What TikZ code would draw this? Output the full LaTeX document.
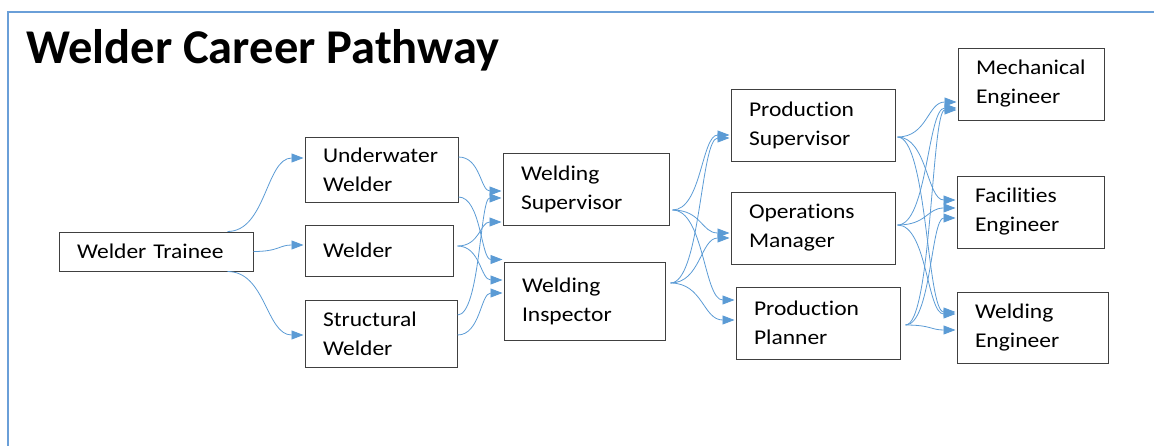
\documentclass[tikz,border=0pt]{standalone}
\usepackage{fontspec}
\setmainfont{Carlito}
\newfontfamily\boxfont[FakeStretch=1.12,Ligatures=CommonOff]{Carlito}
\newfontfamily\titlefont{Carlito}
\usepackage{xcolor}
\usetikzlibrary{arrows.meta,calc}
\definecolor{pathblue}{HTML}{5B9BD5}
\definecolor{frameblue}{HTML}{6A9FD8}

\begin{document}
\begin{tikzpicture}[x=1pt,y=-1pt,->,>={Triangle[length=12pt,width=9pt]},
    shorten >=1pt,
    main node/.style={rectangle,draw=black!75,line width=1pt,align=left,
      inner xsep=18pt,inner ysep=0pt,font=\boxfont\fontsize{21}{29}\selectfont},
    flow/.style={draw=pathblue,line width=0.8pt,
      to path={let \p1=(\tikztostart), \p2=(\tikztotarget),
        \p3=($(\p1)!0.5!(\p2)$) in
        .. controls (\x3,\y1) and (\x3,\y2) .. (\tikztotarget) \tikztonodes}}]
    \useasboundingbox (0,0) rectangle (1154,447);
    \draw[-,frameblue,line width=2pt] (1154,12) -- (8,12) -- (8,447);
    \node[anchor=base west,inner sep=0pt,font=\titlefont\fontsize{48.5}{54}\selectfont\bfseries]
      (title) at (26,63) {Welder Career Pathway};

    % first step
    \node[main node,minimum width=194pt,minimum height=39pt,text width=158pt]
      (trainee) at (156,251.5) {Welder Trainee};
    \node[main node,minimum width=153pt,minimum height=65pt,text width=117pt]
      (under_w) at (381.5,169.5) {Underwater\\Welder};
    \node[main node,minimum width=148pt,minimum height=51pt,text width=112pt]
      (welder) at (379,250.5) {Welder};
    \node[main node,minimum width=152pt,minimum height=67pt,text width=116pt]
      (struct_w) at (381,333.5) {Structural\\Welder};
    % second step
    \node[main node,minimum width=166pt,minimum height=72pt,text width=130pt]
      (weld_sup) at (586,189) {Welding\\Supervisor};
    \node[main node,minimum width=161pt,minimum height=78pt,text width=125pt]
      (weld_insp) at (584.5,301) {Welding\\Inspector};
    % management
    \node[main node,minimum width=164pt,minimum height=72pt,text width=128pt]
      (prod_sup) at (813,125) {Production\\Supervisor};
    \node[main node,minimum width=164pt,minimum height=72pt,text width=128pt]
      (ops_mgr) at (813,228) {Operations\\Manager};
    \node[main node,minimum width=164pt,minimum height=72pt,text width=128pt]
      (prod_plan) at (818,323) {Production\\Planner};
    % engineers
    \node[main node,minimum width=146pt,minimum height=72pt,text width=110pt]
      (mech_eng) at (1031,84) {Mechanical\\Engineer};
    \node[main node,minimum width=147pt,minimum height=72pt,text width=111pt]
      (fac_eng) at (1030.5,212) {Facilities\\Engineer};
    \node[main node,minimum width=151pt,minimum height=71pt,text width=115pt]
      (weld_eng) at (1032.5,327.5) {Welding\\Engineer};

    \path[every edge/.style={flow}]
    ([xshift=-26pt]trainee.north east) edge ([yshift=11.5pt]under_w.west)
    (trainee.east) edge ([yshift=5.5pt]welder.west)
    ([xshift=-26pt]trainee.south east) edge ([yshift=-1.5pt]struct_w.west)
    ([yshift=12.5pt]under_w.east) edge ([yshift=-2pt]weld_sup.west)
    ([yshift=-27.5pt]under_w.east) edge ([yshift=2pt]weld_insp.north west)
    ([xshift=4pt,yshift=4.5pt]welder.east) edge ([yshift=-33pt]weld_sup.west)
    ([xshift=4pt,yshift=4.5pt]welder.east) edge ([yshift=21pt]weld_insp.west)
    ([yshift=18.5pt]struct_w.east) edge ([yshift=-9pt]weld_sup.west)
    ([yshift=-1.5pt]struct_w.east) edge ([yshift=8pt]weld_insp.west)
    ([xshift=3pt,yshift=-21pt]weld_sup.east) edge ([yshift=-10pt]prod_sup.west)
    ([xshift=3pt,yshift=-21pt]weld_sup.east) edge ([yshift=-5pt]ops_mgr.west)
    ([xshift=3pt,yshift=-21pt]weld_sup.east) edge ([yshift=23pt]prod_plan.west)
    ([xshift=5pt,yshift=18pt]weld_insp.east) edge ([yshift=-13pt]prod_sup.west)
    ([xshift=5pt,yshift=18pt]weld_insp.east) edge ([yshift=-10pt]ops_mgr.west)
    ([xshift=5pt,yshift=18pt]weld_insp.east) edge ([yshift=3pt]prod_plan.west)
    ([xshift=2pt,yshift=-12pt]prod_sup.east) edge ([yshift=-18pt]mech_eng.west)
    ([xshift=2pt,yshift=-12pt]prod_sup.east) edge ([yshift=12pt]fac_eng.west)
    ([xshift=2pt,yshift=-12pt]prod_sup.east) edge ([yshift=15.5pt]weld_eng.west)
    ([xshift=2pt,yshift=3pt]ops_mgr.east) edge ([yshift=-24pt]mech_eng.west)
    ([xshift=2pt,yshift=3pt]ops_mgr.east) edge ([yshift=4pt]fac_eng.west)
    ([xshift=2pt,yshift=3pt]ops_mgr.east) edge ([yshift=13.5pt]weld_eng.west)
    ([xshift=5pt,yshift=-2pt]prod_plan.east) edge ([yshift=-26pt]mech_eng.west)
    ([xshift=5pt,yshift=-2pt]prod_plan.east) edge ([yshift=-6pt]fac_eng.west)
    ([xshift=5pt,yshift=-2pt]prod_plan.east) edge ([yshift=-2.5pt]weld_eng.west)
    ;
\end{tikzpicture}
\end{document}
